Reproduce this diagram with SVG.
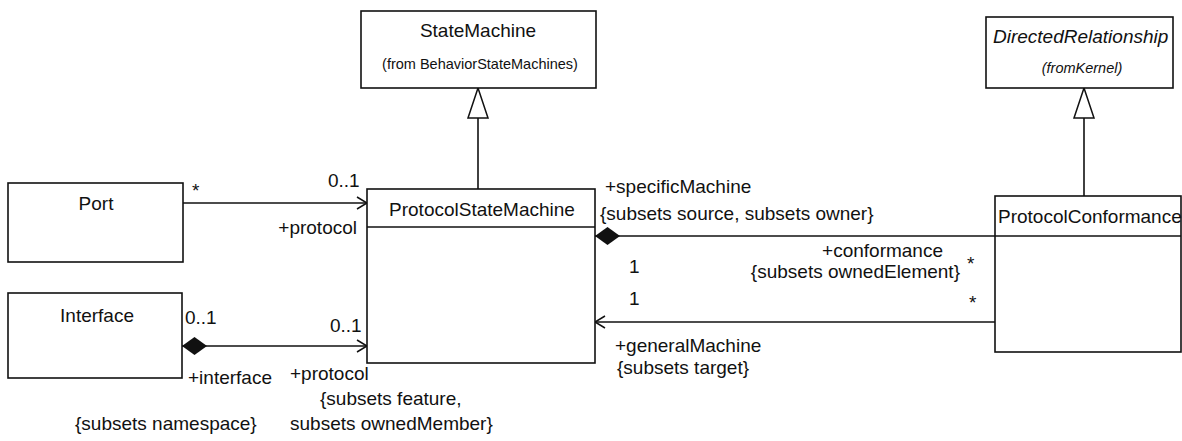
<svg xmlns="http://www.w3.org/2000/svg" width="1182" height="441" viewBox="0 0 1182 441">
  <style>
    .box { fill: #ffffff; stroke: #111111; stroke-width: 1.6; }
    .sep { fill: none; stroke: #111111; stroke-width: 1.6; }
    .edge { fill: none; stroke: #111111; stroke-width: 1.6; }
    text { font-family: "Liberation Sans", Arial, sans-serif; font-size: 19px; fill: #111111; }
    .name { text-anchor: middle; }
    .small { font-size: 14.5px; text-anchor: middle; }
    .ital { font-style: italic; }
    .end { text-anchor: end; }
  </style>
  <defs>
    <!-- open navigability arrow -->
    <marker id="open" markerUnits="userSpaceOnUse" markerWidth="14" markerHeight="16" refX="11" refY="7" orient="auto">
      <path d="M1,1 L11,7 L1,13" fill="none" stroke="#111111" stroke-width="1.5"/>
    </marker>
    <!-- filled composition diamond -->
    <marker id="diamond" markerUnits="userSpaceOnUse" markerWidth="26" markerHeight="20" refX="0" refY="9" orient="auto">
      <path d="M0,9 L12.5,0 L25,9 L12.5,18 Z" fill="#111111"/>
    </marker>
    <!-- hollow generalization triangle -->
    <marker id="gen" markerUnits="userSpaceOnUse" markerWidth="32" markerHeight="24" refX="31" refY="11" orient="auto">
      <path d="M1,1 L31,11 L1,21 Z" fill="#ffffff" stroke="#111111" stroke-width="1.5"/>
    </marker>
  </defs>

  <rect width="1182" height="441" fill="#ffffff"/>

  <g id="connectors">
    <path class="edge" d="M478,189 L478,88" marker-end="url(#gen)"/>
    <path class="edge" d="M1084,196 L1084,88" marker-end="url(#gen)"/>
    <path class="edge" d="M183,203 L367,203" marker-end="url(#open)"/>
    <path class="edge" d="M182,346 L367,346" marker-start="url(#diamond)" marker-end="url(#open)"/>
    <path class="edge" d="M595,236 L995,236" marker-start="url(#diamond)"/>
    <path class="edge" d="M995,322 L595,322" marker-end="url(#open)"/>
  </g>

  <g id="StateMachine">
    <rect class="box" x="361" y="11" width="235" height="77"/>
    <text class="name" x="478" y="37">StateMachine</text>
    <text class="small" x="480" y="69">(from BehaviorStateMachines)</text>
  </g>

  <g id="DirectedRelationship">
    <rect class="box" x="986" y="17" width="187" height="71"/>
    <text class="ital" x="993" y="43">DirectedRelationship</text>
    <text class="small ital" x="1082" y="73">(fromKernel)</text>
  </g>

  <g id="Port">
    <rect class="box" x="8" y="183" width="175" height="79"/>
    <text class="name" x="96" y="210">Port</text>
  </g>

  <g id="Interface">
    <rect class="box" x="8" y="293" width="174" height="85"/>
    <text class="name" x="97" y="322">Interface</text>
  </g>

  <g id="ProtocolStateMachine">
    <rect class="box" x="367" y="189" width="228" height="174"/>
    <line class="sep" x1="367" y1="227" x2="595" y2="227"/>
    <text class="name" x="482" y="216">ProtocolStateMachine</text>
  </g>

  <g id="ProtocolConformance">
    <rect class="box" x="995" y="196" width="186" height="156"/>
    <line class="sep" x1="995" y1="236" x2="1181" y2="236"/>
    <text x="998" y="223">ProtocolConformance</text>
  </g>

  <g id="labels">
    <!-- Port to ProtocolStateMachine -->
    <text x="192" y="197">*</text>
    <text x="328" y="187">0..1</text>
    <text class="end" x="357" y="234">+protocol</text>

    <!-- Interface to ProtocolStateMachine -->
    <text x="185" y="324">0..1</text>
    <text x="330" y="332">0..1</text>
    <text x="188" y="384">+interface</text>
    <text x="290" y="380">+protocol</text>
    <text x="320" y="405">{subsets feature,</text>
    <text x="75" y="430">{subsets namespace}</text>
    <text x="290" y="430">subsets ownedMember}</text>

    <!-- ProtocolStateMachine to ProtocolConformance -->
    <text x="605" y="193">+specificMachine</text>
    <text x="600" y="220">{subsets source, subsets owner}</text>
    <text class="end" x="943" y="257">+conformance</text>
    <text class="end" x="960" y="278">{subsets ownedElement}</text>
    <text x="629" y="273">1</text>
    <text x="629" y="305">1</text>
    <text x="967" y="270">*</text>
    <text x="969" y="309">*</text>
    <text x="615" y="352">+generalMachine</text>
    <text x="617" y="374">{subsets target}</text>
  </g>
</svg>
